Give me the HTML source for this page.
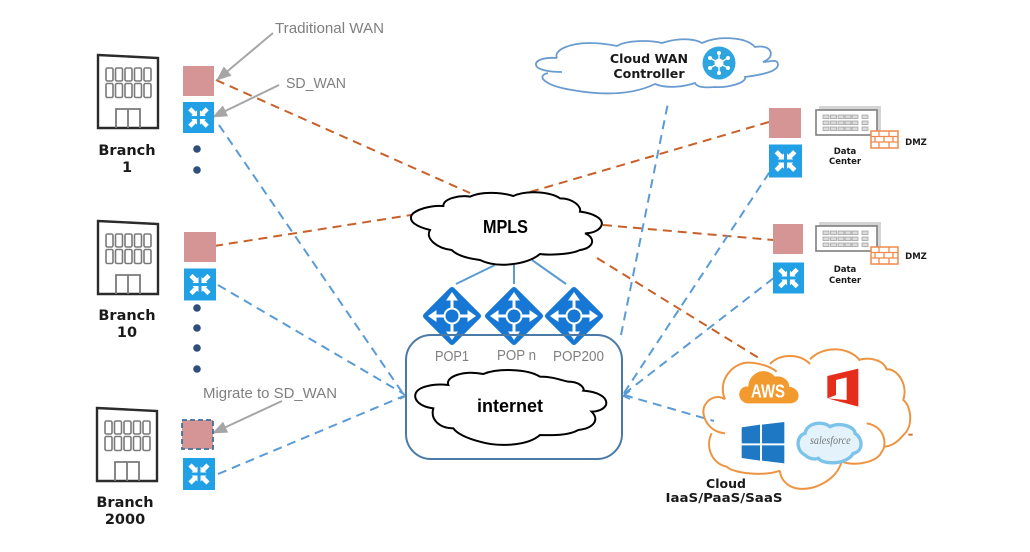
<!DOCTYPE html>
<html><head><meta charset="utf-8"><style>
html,body{margin:0;padding:0;background:#fff;width:1030px;height:552px;overflow:hidden}
svg{display:block}
.g{font-family:"Liberation Sans",sans-serif;fill:#7f7f7f;font-size:14.500px}
.c{font-family:"Liberation Sans",sans-serif;font-weight:bold;fill:#000;font-size:18px}
.s{filter:blur(.35px)}
</style></head><body>
<svg width="1030" height="552" viewBox="0 0 1030 552" xmlns="http://www.w3.org/2000/svg">
<defs>
<symbol id="bld" viewBox="0 0 62 76" overflow="visible">
<path d="M1,1 L61,4 V74 H1 Z" fill="#fff" stroke="#2b2b2b" stroke-width="2.400"/>
<g fill="#fff" stroke="#7a7a7a" stroke-width="1.600">
<rect x="9" y="14" width="7" height="13" rx="1.5"/><rect x="18.500" y="14" width="7" height="13" rx="1.500"/><rect x="28" y="14" width="7" height="13" rx="1.500"/><rect x="37.500" y="14" width="7" height="13" rx="1.500"/><rect x="47" y="14" width="7" height="13" rx="1.500"/>
<rect x="9" y="29.500" width="7" height="14" rx="1.5"/><rect x="18.500" y="29.500" width="7" height="14" rx="1.500"/><rect x="28" y="29.500" width="7" height="14" rx="1.500"/><rect x="37.500" y="29.500" width="7" height="14" rx="1.500"/><rect x="47" y="29.500" width="7" height="14" rx="1.500"/>
<path d="M19,74 V55 H43 V74 M31,55 V74" fill="none" stroke-width="1.800"/>
</g>
</symbol>
<symbol id="sw" viewBox="0 0 32 32" overflow="visible">
<rect width="32" height="32" fill="#21a0e6"/>
<g stroke="#fff" stroke-width="4.500" stroke-linecap="butt"><path d="M7,7 L13,13 M25,7 L19,13 M7,25 L13,19 M25,25 L19,19"/></g>
<g fill="#fff"><path d="M14.500,14.500 V8.500 L8.500,14.500 Z M17.500,14.500 V8.500 L23.500,14.500 Z M14.500,17.500 V23.500 L8.500,17.500 Z M17.500,17.500 V23.500 L23.500,17.500 Z"/></g>
</symbol>
<symbol id="rt" viewBox="-30 -30 60 60" overflow="visible">
<path d="M0,-26 L26,0 L0,26 L-26,0 Z" fill="#1678d4" stroke="#1678d4" stroke-width="6" stroke-linejoin="round"/>
<g stroke="#fff" stroke-width="3"><path d="M0,-17 V17 M-17,0 H17"/></g>
<g fill="#fff"><path d="M0,-24 L6,-15.500 H-6 Z M0,24 L6,15.500 H-6 Z M-24,0 L-15.500,-6 V6 Z M24,0 L15.500,-6 V6 Z"/></g>
<circle r="8.500" fill="#fff"/><circle r="6.500" fill="#1678d4"/>
</symbol>
<symbol id="dc" viewBox="0 0 85 48" overflow="visible">
<rect x="4" y="0" width="62" height="26" fill="#d4d4d4"/>
<rect x="1" y="4" width="61" height="25" fill="#fff" stroke="#7f7f7f" stroke-width="1.600"/>
<g fill="#dcdcdc" stroke="#999" stroke-width=".7">
<rect x="8" y="9" width="6" height="3.500"/><rect x="15.500" y="9" width="6" height="3.500"/><rect x="23" y="9" width="6" height="3.500"/><rect x="30" y="9" width="6" height="3.500"/><rect x="37" y="9" width="6" height="3.500"/><rect x="47" y="9" width="6" height="3.500"/>
<rect x="8" y="15" width="6" height="3.500"/><rect x="15.500" y="15" width="6" height="3.500"/><rect x="23" y="15" width="6" height="3.500"/><rect x="30" y="15" width="6" height="3.500"/><rect x="37" y="15" width="6" height="3.500"/><rect x="47" y="15" width="6" height="3.500"/>
<rect x="8" y="21" width="6" height="3.500"/><rect x="15.500" y="21" width="6" height="3.500"/><rect x="23" y="21" width="6" height="3.500"/><rect x="30" y="21" width="6" height="3.500"/><rect x="37" y="21" width="6" height="3.500"/><rect x="47" y="21" width="6" height="3.500"/>
</g>
<rect x="56" y="25" width="27" height="17" fill="#fff" stroke="#ef8a4c" stroke-width="1.500"/>
<path d="M56,30.500 H83 M56,36 H83 M64,25 V30.500 M74,25 V30.500 M60,30.500 V36 M69,30.500 V36 M78,30.500 V36 M64,36 V42 M74,36 V42" stroke="#ef8a4c" stroke-width="1.300" fill="none"/>
</symbol>
<marker id="ga" markerWidth="15" markerHeight="12" refX="14" refY="6" orient="auto" markerUnits="userSpaceOnUse"><path d="M0,0 L15,6 L0,12 Z" fill="#a6a6a6"/></marker>
</defs>

<!-- connectors -->
<g fill="none" stroke="#c8602a" stroke-width="2" stroke-dasharray="9 6">
<path d="M216,80 L470,193"/><path d="M214,246 L411,215"/><path d="M530,192 L769,122"/><path d="M603,225 L773,240"/><path d="M597,258 L762,360"/>
</g>
<g fill="none" stroke="#5b9bd5" stroke-width="2" stroke-dasharray="9 6">
<path d="M219,125 L404,395"/><path d="M218,285 L404,394"/><path d="M218,474 L404,396"/>
<path d="M624,393 L771,170"/><path d="M624,394 L775,277"/><path d="M624,395 L714,421"/><path d="M621,335 L668,103"/>
</g>
<path d="M400,391 L406,396 L400,399 M630,391 L623,396 L630,399" fill="none" stroke="#5b9bd5" stroke-width="1.500"/>
<g stroke="#5b9bd5" stroke-width="2" fill="none"><path d="M495,265 L456,284"/><path d="M514,265 L514,284"/><path d="M532,260 L566,284"/></g>

<!-- labels with grey arrows -->
<g stroke="#a6a6a6" stroke-width="2" fill="none">
<path d="M273,33 L217,80" marker-end="url(#ga)"/><path d="M279,85 L213,117" marker-end="url(#ga)"/><path d="M282,401 L213,433" marker-end="url(#ga)"/>
</g>
<text class="g" x="275" y="33" textLength="109" lengthAdjust="spacingAndGlyphs">Traditional WAN</text>
<text class="g" x="286" y="88" textLength="60" lengthAdjust="spacingAndGlyphs">SD_WAN</text>
<text class="g" x="203" y="398" textLength="134" lengthAdjust="spacingAndGlyphs">Migrate to SD_WAN</text>

<!-- branches -->
<g class="s">
<use href="#bld" x="97" y="54" width="62" height="76"/>
<use href="#bld" x="97" y="220" width="62" height="76"/>
<use href="#bld" x="96" y="407" width="62" height="76"/>
</g>
<g text-anchor="middle" style="font-family:'DejaVu Sans',sans-serif;font-weight:bold;fill:#1a1a1a;font-size:14.500px">
<text x="127" y="155">Branch</text><text x="127" y="172">1</text>
<text x="127" y="320">Branch</text><text x="127" y="337">10</text>
<text x="125" y="507">Branch</text><text x="125" y="524">2000</text>
</g>
<g fill="#d59595">
<rect x="183" y="66" width="31" height="30"/><rect x="184" y="232" width="32" height="30"/>
<rect x="769" y="108" width="32" height="30"/><rect x="773" y="224" width="30" height="30"/>
</g>
<rect x="182" y="420" width="31" height="29" fill="#d59595" stroke="#3f6f9f" stroke-width="1.800" stroke-dasharray="5 3"/>
<g class="s">
<use href="#sw" x="183" y="102" width="31" height="31"/>
<use href="#sw" x="184" y="268" width="32" height="33"/>
<use href="#sw" x="183" y="458" width="32" height="32"/>
<use href="#sw" x="769" y="144" width="33" height="34"/>
<use href="#sw" x="773" y="262" width="31" height="32"/>
</g>
<g fill="#2e4f7c" class="s"><circle cx="197" cy="149" r="3.800"/><circle cx="197" cy="170" r="3.800"/>
<circle cx="197" cy="308" r="3.800"/><circle cx="197" cy="328" r="3.800"/><circle cx="197" cy="348" r="3.800"/><circle cx="197" cy="369" r="3.800"/></g>

<!-- routers, internet box and clouds -->
<use href="#rt" x="422" y="286" width="60" height="60"/>
<use href="#rt" x="484" y="286" width="60" height="60"/>
<use href="#rt" x="544" y="286" width="60" height="60"/>
<rect x="406" y="335" width="216" height="124" rx="25" fill="none" stroke="#4a7ba7" stroke-width="2"/>
<g transform="translate(400,180) scale(.33333)" fill="#fff" stroke="#000" stroke-width="6">
<path d="M90,150 C50,140 25,125 35,105 C45,90 90,75 130,78 C130,55 180,45 210,50 C240,35 300,35 340,48 C380,30 450,35 480,55 C520,55 545,80 540,95 C580,100 610,115 605,135 C600,150 580,160 555,160 C590,175 580,205 540,210 C510,225 440,225 420,222 C380,255 290,265 240,240 C200,235 170,225 155,210 C110,205 75,175 90,150 Z"/>
<path d="M100,685 C60,680 40,660 47,640 C55,620 100,610 145,615 C135,590 190,570 250,582 C290,565 380,565 420,590 C460,590 480,600 505,605 C540,605 555,625 550,632 C590,635 625,650 618,675 C610,690 590,695 575,695 C600,720 580,745 535,750 C500,770 440,765 420,765 C380,800 290,800 240,785 C200,775 170,760 160,745 C120,745 90,720 100,685 Z"/>
</g>
<text class="c" x="483" y="233" textLength="45" lengthAdjust="spacingAndGlyphs">MPLS</text>
<text class="c" x="477" y="412" textLength="66" lengthAdjust="spacingAndGlyphs">internet</text>
<text class="g" x="435" y="361" textLength="34" lengthAdjust="spacingAndGlyphs">POP1</text>
<text class="g" x="497" y="360" textLength="39" lengthAdjust="spacingAndGlyphs">POP n</text>
<text class="g" x="553" y="361" textLength="51" lengthAdjust="spacingAndGlyphs">POP200</text>

<!-- Cloud WAN controller -->
<g fill="none" stroke="#6a9bd0" stroke-width="1.800">
<path d="M557,58 C545,57 535,60 536,65 C537,70 550,72 562,72"/>
<path d="M557,58 C553,50 570,43 590,43 C600,43 612,45 617,46 C627,40 650,40 662,43 C677,38 693,38 702,43 C717,36 745,36 755,47 C767,45 773,50 770,57 C768,60 765,61 763,62 C770,62 778,58 778,65 C777,72 760,75 745,77 C747,83 727,88 715,87 C703,88 697,87 695,83 C680,88 665,88 655,84 C630,96 600,95 572,90 C560,88 553,86 548,83 C541,79 540,75 548,73"/>
</g>
<circle cx="719" cy="63" r="16.500" fill="#2fa5e0"/>
<g stroke="#fff" stroke-width="1.300"><path d="M719,53 V73 M710,58 L728,68 M728,58 L710,68"/></g>
<g fill="#fff"><circle cx="719" cy="63" r="4.500"/><circle cx="719" cy="53" r="2"/><circle cx="719" cy="73" r="2"/><circle cx="710" cy="58" r="2"/><circle cx="728" cy="58" r="2"/><circle cx="710" cy="68" r="2"/><circle cx="728" cy="68" r="2"/></g>
<text x="649" y="63" text-anchor="middle" style="font-family:'DejaVu Sans',sans-serif;font-weight:bold;font-size:12.600px;fill:#1a1a1a">Cloud WAN</text>
<text x="649" y="78" text-anchor="middle" style="font-family:'DejaVu Sans',sans-serif;font-weight:bold;font-size:12.600px;fill:#1a1a1a">Controller</text>

<!-- Data centers -->
<g class="s">
<use href="#dc" x="815" y="106" width="85" height="48"/>
<use href="#dc" x="815" y="222" width="85" height="48"/>
</g>
<g style="font-family:'DejaVu Sans',sans-serif;font-weight:bold;font-size:8.500px;fill:#1a1a1a" text-anchor="middle">
<text x="845" y="154">Data</text><text x="845" y="164">Center</text>
<text x="845" y="272">Data</text><text x="845" y="283">Center</text>
<text x="916" y="145">DMZ</text><text x="916" y="259">DMZ</text>
</g>

<!-- Cloud services -->
<g transform="translate(690,340) scale(.33333)">
<path d="M105,178 C80,120 130,65 180,68 C205,70 235,75 260,95 M240,72 C270,40 330,40 360,72 M360,58 C400,15 480,20 510,62 M505,60 C540,50 580,60 590,88 C620,85 655,130 640,180 C665,200 670,260 640,285 C620,310 600,320 580,320 M530,250 C590,260 590,320 575,335 C565,365 500,380 455,365 M455,365 C440,420 370,455 320,445 C290,440 270,415 270,392 M270,392 C220,410 130,400 110,380 C65,370 45,320 65,280 M105,280 C50,275 30,220 45,195 C60,170 85,165 105,178" fill="none" stroke="#ee9440" stroke-width="6"/>
<path d="M655,284 H668" stroke="#d9722c" stroke-width="6"/>
<path d="M170,190 C135,180 145,135 175,140 C175,100 225,75 255,110 C280,105 300,125 297,140 C335,145 335,190 300,190 Z" fill="#f29a2e"/>
<text x="183" y="173" style="font-family:'Liberation Sans',sans-serif;font-weight:bold;font-size:56px;fill:#fff" textLength="102" lengthAdjust="spacingAndGlyphs">AWS</text>
<path d="M412,108 L505,86 V200 L412,175 L470,180 V112 L438,120 V165 L412,175 Z" fill="#e52d1c"/>
<path d="M155,262 L210,254 V310 H155 Z M216,254 L283,246 V310 H216 Z M155,316 H210 V362 L155,354 Z M216,316 H283 V370 L216,362 Z" fill="#1f78c4"/>
<path d="M345,345 C315,330 320,285 345,280 C350,250 395,240 420,260 C450,245 495,260 495,280 C520,295 520,335 490,340 C470,375 400,375 385,355 C370,360 355,355 345,345 Z" fill="#e3f2fb" stroke="#7cc3ea" stroke-width="10"/>
<text x="360" y="312" style="font-family:'Liberation Serif',serif;font-style:italic;font-size:36px;fill:#777" textLength="122" lengthAdjust="spacingAndGlyphs">salesforce</text>
</g>
<g style="font-family:'DejaVu Sans',sans-serif;font-weight:bold;font-size:12.500px;fill:#1a1a1a" text-anchor="middle">
<text x="726" y="488">Cloud</text><text x="724" y="502" textLength="117" lengthAdjust="spacingAndGlyphs">IaaS/PaaS/SaaS</text>
</g>
</svg>
</body></html>
